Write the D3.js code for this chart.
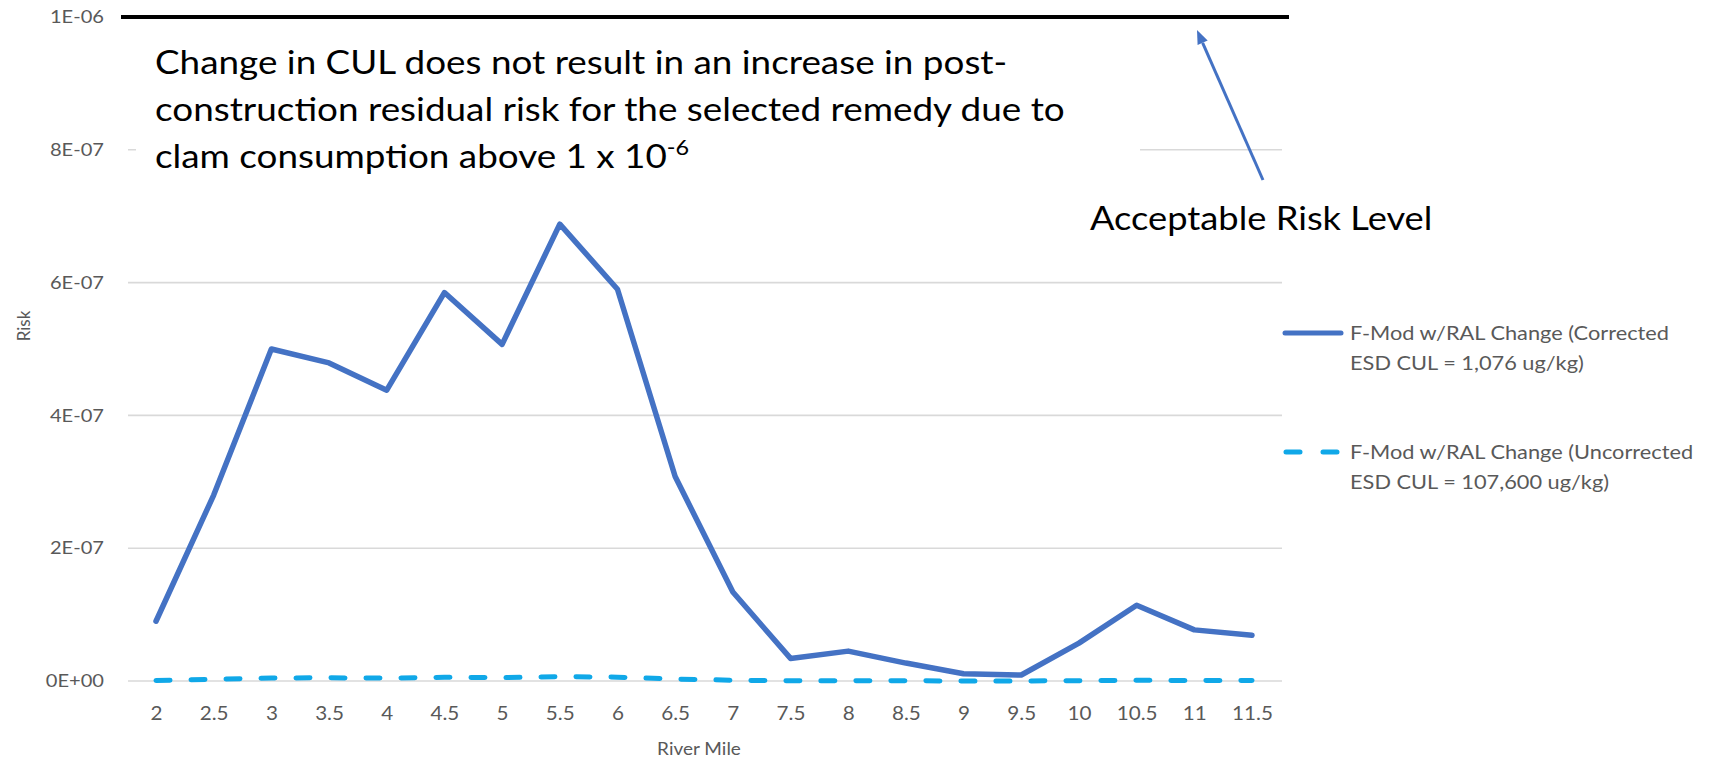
<!DOCTYPE html>
<html>
<head>
<meta charset="utf-8">
<script src="https://cdn.jsdelivr.net/npm/d3@7"></script>
<style>
  html, body { margin: 0; padding: 0; background: #fff; }
  svg { display: block; }
</style>
</head>
<body>
<svg id="chart" width="1713" height="760"></svg>
<script>
// ---- data ----
const riverMiles = ["2", "2.5", "3", "3.5", "4", "4.5", "5", "5.5", "6", "6.5",
                    "7", "7.5", "8", "8.5", "9", "9.5", "10", "10.5", "11", "11.5"];
const correctedRisk = [9.0e-8, 2.8e-7, 5.0e-7, 4.79e-7, 4.38e-7, 5.85e-7, 5.07e-7, 6.88e-7, 5.9e-7, 3.08e-7,
                       1.34e-7, 3.4e-8, 4.5e-8, 2.7e-8, 1.1e-8, 9.0e-9, 5.7e-8, 1.14e-7, 7.7e-8, 6.9e-8];
const uncorrectedRisk = [0.9e-9, 2.6e-9, 4.6e-9, 4.8e-9, 4.4e-9, 5.6e-9, 5.0e-9, 6.6e-9, 5.8e-9, 3.0e-9,
                         1.2e-9, 0.3e-9, 0.4e-9, 0.3e-9, 0.1e-9, 0.1e-9, 0.5e-9, 1.1e-9, 0.8e-9, 0.7e-9];
const riskTicks = [0, 2e-7, 4e-7, 6e-7, 8e-7, 1e-6];
const riskTickLabels = ["0E+00", "2E-07", "4E-07", "6E-07", "8E-07", "1E-06"];
const acceptableRisk = 1e-6;
const seriesLabels = [
  ["F-Mod w/RAL Change (Corrected", "ESD CUL = 1,076 ug/kg)"],
  ["F-Mod w/RAL Change (Uncorrected", "ESD CUL = 107,600 ug/kg)"]
];
const noteLines = [
  "Change in CUL does not result in an increase in post-",
  "construction residual risk for the selected remedy due to",
  "clam consumption above 1 x 10"
];
const noteSuperscript = "-6";
const acceptableLabel = "Acceptable Risk Level";
const xTitle = "River Mile";
const yTitle = "Risk";

// ---- layout & style ----
const FONT = "Lato, 'Open Sans', sans-serif";
const GREY_TEXT = "#595959";
const GRID = "#d9d9d9";
const BLUE = "#4472C4";
const LIGHT_BLUE = "#10A8E8";

const plot = { left: 128, right: 1282, top: 17, bottom: 681 };

const svg = d3.select("#chart");

// horizontal text stretch, derived from the widest note line
const probe = svg.append("text").attr("font-family", FONT).attr("font-size", 33).text(noteLines[1]);
const natural = probe.node().getComputedTextLength();
probe.remove();
const SX = Math.max(0.9, Math.min(1.3, 910 / natural));

const x = d3.scalePoint().domain(riverMiles).range([156, 1252]);
const y = d3.scaleLinear().domain([0, 1e-6]).range([plot.bottom, plot.top]);

// gridlines
svg.append("g").selectAll("line")
  .data(riskTicks.slice(0, 5))
  .join("line")
  .attr("x1", plot.left).attr("x2", plot.right)
  .attr("y1", d => y(d)).attr("y2", d => y(d))
  .attr("stroke", GRID).attr("stroke-width", 1.6);

// y axis labels
const yAxis = svg.append("g")
  .attr("transform", `translate(${plot.left},0)`)
  .call(d3.axisLeft(y).tickValues(riskTicks)
    .tickFormat((d, i) => riskTickLabels[i]).tickSize(0).tickPadding(24));
yAxis.select(".domain").remove();
yAxis.selectAll("text")
  .attr("font-family", FONT).attr("font-size", 18).attr("fill", GREY_TEXT)
  .attr("x", -24 / SX).attr("transform", `scale(${SX},1)`);

// x axis labels
const xAxis = svg.append("g")
  .attr("transform", `translate(0,${plot.bottom})`)
  .call(d3.axisBottom(x).tickSize(0).tickPadding(26));
xAxis.select(".domain").remove();
xAxis.selectAll("text")
  .attr("font-family", FONT).attr("font-size", 18.5).attr("fill", GREY_TEXT)
  .attr("transform", `scale(${SX},1)`);

// axis titles
svg.append("text")
  .attr("transform", `translate(30,326) rotate(-90)`)
  .attr("text-anchor", "middle")
  .attr("font-family", FONT).attr("font-size", 17).attr("fill", GREY_TEXT)
  .text(yTitle);
svg.append("text")
  .attr("transform", `translate(699,755) scale(${SX},1)`)
  .attr("text-anchor", "middle")
  .attr("font-family", FONT).attr("font-size", 17).attr("fill", GREY_TEXT)
  .text(xTitle);

// note box (white, masks the gridline behind it)
svg.append("rect")
  .attr("x", 136).attr("y", 32).attr("width", 1004).attr("height", 152)
  .attr("fill", "#fff");

const note = svg.append("g").attr("font-family", FONT).attr("font-size", 33).attr("fill", "#000");
const noteBaselines = [74, 121, 168];
noteLines.forEach((line, i) => {
  const t = note.append("text")
    .attr("transform", `translate(155,${noteBaselines[i]}) scale(${SX},1)`)
    .text(line);
  if (i === noteLines.length - 1) {
    t.append("tspan").attr("font-size", 21).attr("dy", -13).text(noteSuperscript);
  }
});

// acceptable risk level line
svg.append("line")
  .attr("x1", 121).attr("x2", 1289)
  .attr("y1", y(acceptableRisk)).attr("y2", y(acceptableRisk))
  .attr("stroke", "#000").attr("stroke-width", 4);

// series lines
const line = d3.line().x((d, i) => x(riverMiles[i])).y(d => y(d));

svg.append("path")
  .datum(uncorrectedRisk)
  .attr("d", line)
  .attr("fill", "none").attr("stroke", LIGHT_BLUE).attr("stroke-width", 5)
  .attr("stroke-dasharray", "14 21").attr("stroke-linecap", "round");

svg.append("path")
  .datum(correctedRisk)
  .attr("d", line)
  .attr("fill", "none").attr("stroke", BLUE).attr("stroke-width", 5.5)
  .attr("stroke-linejoin", "round").attr("stroke-linecap", "round");

// legend
const legend = svg.append("g").attr("font-family", FONT).attr("font-size", 19.5).attr("fill", GREY_TEXT);
const legendRows = [333, 452];
legendRows.forEach((ly, i) => {
  const sample = legend.append("line")
    .attr("x1", 1285).attr("x2", 1341).attr("y1", ly).attr("y2", ly)
    .attr("stroke-width", 5)
    .attr("stroke", i === 0 ? BLUE : LIGHT_BLUE)
    .attr("stroke-linecap", "round");
  if (i === 1) sample.attr("x1", 1286).attr("x2", 1337).attr("stroke-dasharray", "14 23");
  seriesLabels[i].forEach((txt, j) => {
    legend.append("text")
      .attr("transform", `translate(1350,${ly + j * 30}) scale(${SX},1)`)
      .attr("dy", "0.35em")
      .text(txt);
  });
});

// annotation arrow pointing at the acceptable risk line
const tail = [1263, 180], tip = [1197, 30];
const dx = tip[0] - tail[0], dy = tip[1] - tail[1];
const len = Math.hypot(dx, dy);
const ux = dx / len, uy = dy / len;
const headLen = 14, headHalf = 5.5;
const base = [tip[0] - ux * headLen, tip[1] - uy * headLen];
svg.append("line")
  .attr("x1", tail[0]).attr("y1", tail[1]).attr("x2", base[0]).attr("y2", base[1])
  .attr("stroke", BLUE).attr("stroke-width", 3);
svg.append("path")
  .attr("d", `M${tip[0]},${tip[1]}L${base[0] - uy * headHalf},${base[1] + ux * headHalf}L${base[0] + uy * headHalf},${base[1] - ux * headHalf}Z`)
  .attr("fill", BLUE);

svg.append("text")
  .attr("transform", `translate(1090,230) scale(${SX},1)`)
  .attr("font-family", FONT).attr("font-size", 32.5).attr("fill", "#000")
  .text(acceptableLabel);
</script>
</body>
</html>
